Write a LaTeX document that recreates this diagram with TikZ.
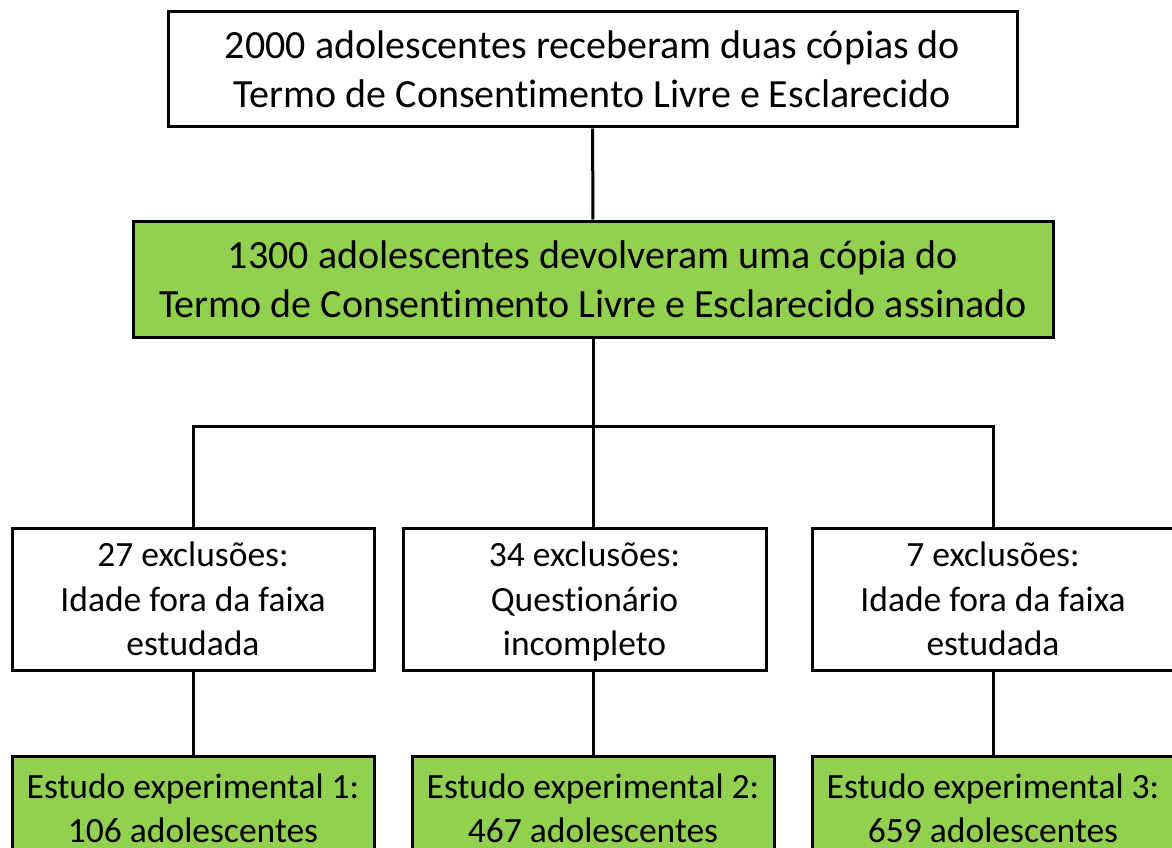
\documentclass[tikz,border=0pt]{standalone}
\usepackage{fontspec}
\setmainfont[Ligatures=NoCommon]{Carlito}
\usepackage{color}
\definecolor{verde}{HTML}{92D050}

\begin{document}
\begin{tikzpicture}[x=1pt, y=-1pt, line width=3pt,
    caixa/.style={draw, rectangle, inner sep=0pt, align=center, font=\fontsize{40}{49}\selectfont},
    exclu/.style={caixa, minimum width=362pt, minimum height=142pt, text depth=0pt, font=\fontsize{35.5}{44.5}\selectfont},
    estudo/.style={exclu, fill=verde, minimum height=104pt}]
                    \clip (0, 0) rectangle (1172, 848);
                    \fill[white] (0, 0) rectangle (1172, 848);

                    \node (tcle) at (592.5, 69.5) [caixa, minimum width=849pt, minimum height=115pt]
                        {2000 adolescentes receberam duas cópias do\\Termo de Consentimento Livre e Esclarecido};
                    \node (devol) at (593, 279) [caixa, fill=verde, minimum width=920pt, minimum height=116pt]
                        {1300 adolescentes devolveram uma cópia do\\Termo de Consentimento Livre e Esclarecido assinado};

                    \node (ex1) at (193, 599) [exclu] {27 exclusões:\\Idade fora da faixa\\estudada};
                    \node (ex2) at (584.5, 599) [exclu, minimum width=363pt] {34 exclusões:\\Questionário\\incompleto};
                    \node (ex3) at (993, 599) [exclu] {7 exclusões:\\Idade fora da faixa\\estudada};

                    \node (est1) at (193, 808) [estudo] {Estudo experimental 1:\\106 adolescentes};
                    \node (est2) at (593, 808) [estudo] {Estudo experimental 2:\\467 adolescentes};
                    \node (est3) at (993, 808) [estudo] {Estudo experimental 3:\\659 adolescentes};

                    \coordinate (ramo) at (593, 426);

                    \draw (tcle) -- (devol);
                    \draw (devol) -- (ramo);
                    \draw (ex1.north) |- (ramo) -| (ex3.north);
                    \draw (ramo) -- (ramo |- ex2.north);
                    \draw (ex1) -- (est1);
                    \draw (est2.north |- ex2.south) -- (est2.north);
                    \draw (ex3) -- (est3);
                \end{tikzpicture}
\end{document}
